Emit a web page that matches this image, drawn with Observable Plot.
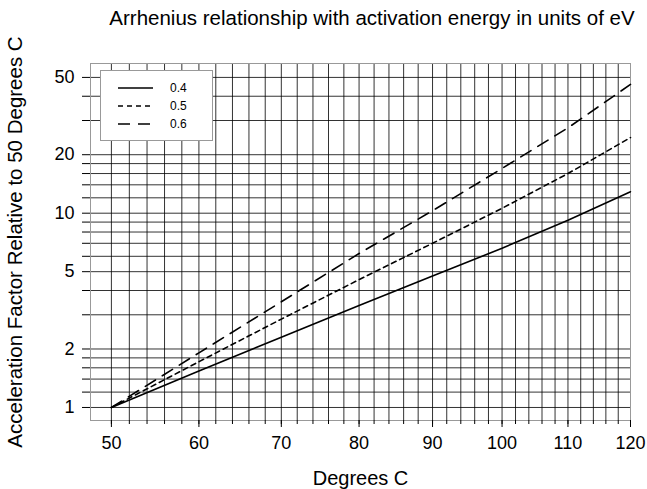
<!DOCTYPE html>
<html>
<head>
<meta charset="utf-8">
<script src="https://cdn.jsdelivr.net/npm/d3@7"></script>
<script src="https://cdn.jsdelivr.net/npm/@observablehq/plot@0.6"></script>
<style>
  html, body { margin: 0; padding: 0; background: #fff; }
  #wrap { position: relative; width: 647px; height: 489px; font-family: "Liberation Sans", Arial, sans-serif; }
  #title { position: absolute; left: 0; top: 6px; width: 744px; text-align: center; font-size: 20.5px; color: #000; white-space: nowrap; }
  #legend { position: absolute; left: 100px; top: 70px; width: 113px; height: 71px; background: #fff; border: 1px solid #999; box-sizing: border-box; }
  #legend svg { display: block; }
</style>
</head>
<body>
<div id="wrap">
  <div id="chart"></div>
  <div id="title">Arrhenius relationship with activation energy in units of eV</div>
  <div id="legend"></div>
</div>
<script>
// ---- data ----
const energies = ["0.4", "0.5", "0.6"];
const temps = [50, 60, 70, 80, 90, 100, 110, 120];
const af04 = [1, 1.54, 2.30, 3.35, 4.75, 6.6, 9.2, 12.9];
const af05 = [1, 1.72, 2.85, 4.55, 7.0, 10.6, 16.0, 24.5];
const af06 = [1, 1.91, 3.50, 6.2, 10.3, 17.0, 27.5, 46.0];
const xTickLabels = [50, 60, 70, 80, 90, 100, 110, 120];
const xGridTemps = [50, 52, 54, 56, 58, 60, 62, 64, 66, 68, 70, 72, 74, 76, 78, 80, 82, 84, 86, 88, 90, 92, 94, 96, 98, 100, 102, 104, 106, 108, 110, 112, 114, 116, 118, 120];
const yTickLabels = [1, 2, 5, 10, 20, 50];
const yGrid = [1, 1.2, 1.4, 1.6, 1.8, 2, 3, 4, 5, 6, 7, 8, 9, 10, 12, 14, 16, 18, 20, 30, 40, 50];
const dashes = {"0.4": null, "0.5": "5,4", "0.6": "12,8"};

const seriesList = [af04, af05, af06];
const rows = energies.flatMap((e, i) => temps.map((t, j) => ({energy: e, temp: t, af: seriesList[i][j]})));

// Arrhenius paper: x is reciprocal absolute temperature
const inv = t => -1000 / (t + 273.15);
const back = u => Math.round(-1000 / u - 273.15);

const gridStyle = {stroke: "#000", strokeOpacity: 0.8, strokeWidth: 1};

const chart = Plot.plot({
  width: 647,
  height: 489,
  marginLeft: 90,
  marginRight: 17,
  marginTop: 63,
  marginBottom: 69,
  style: {fontFamily: "'Liberation Sans', Arial, sans-serif", fontSize: "18px", color: "#000", background: "#fff"},
  x: {type: "linear", domain: [inv(47.7), inv(120)], axis: null},
  y: {type: "log", domain: [0.857, 58.96], axis: null},
  marks: [
    Plot.gridX(xGridTemps.map(inv), gridStyle),
    Plot.gridY(yGrid, gridStyle),
    Plot.frame({stroke: "#999"}),
    Plot.axisX(xGridTemps.map(inv), {tickSize: 4, tickFormat: () => "", stroke: "#000", label: null}),
    Plot.axisX(xTickLabels.map(inv), {
      tickSize: 7, tickPadding: 9, tickFormat: back, stroke: "#000", fontSize: 18,
      label: null
    }),
    Plot.axisX(xTickLabels.map(inv), {
      tickSize: 0, tickFormat: () => "", fontSize: 20,
      label: "Degrees C", labelAnchor: "center", labelArrow: "none", labelOffset: 64
    }),
    Plot.axisY(yGrid, {
      tickSize: 8, tickPadding: 8, stroke: "#000", fontSize: 18,
      tickFormat: v => yTickLabels.includes(v) ? String(v) : "",
      label: null
    }),
    Plot.axisY(yGrid, {
      tickSize: 0, tickFormat: () => "", fontSize: 20.5,
      label: "Acceleration Factor Relative to 50 Degrees C", labelAnchor: "center", labelArrow: "none", labelOffset: 83
    }),
    ...energies.map(e => Plot.line(rows.filter(d => d.energy === e), {
      x: d => inv(d.temp), y: "af", stroke: "#000", strokeWidth: 1.6,
      strokeDasharray: dashes[e] ?? undefined
    }))
  ]
});
document.getElementById("chart").appendChild(chart);

// legend
const lg = d3.select("#legend").append("svg").attr("width", 111).attr("height", 69);
energies.forEach((e, i) => {
  const y = 17 + i * 18;
  lg.append("line").attr("x1", 17).attr("x2", 52).attr("y1", y).attr("y2", y)
    .attr("stroke", "#000").attr("stroke-width", 1.6)
    .attr("stroke-dasharray", dashes[e] ?? null);
  lg.append("text").attr("x", 69).attr("y", y).attr("dy", "0.35em")
    .attr("font-size", 12).attr("font-family", "'Liberation Sans', Arial, sans-serif").text(e);
});
</script>
</body>
</html>
